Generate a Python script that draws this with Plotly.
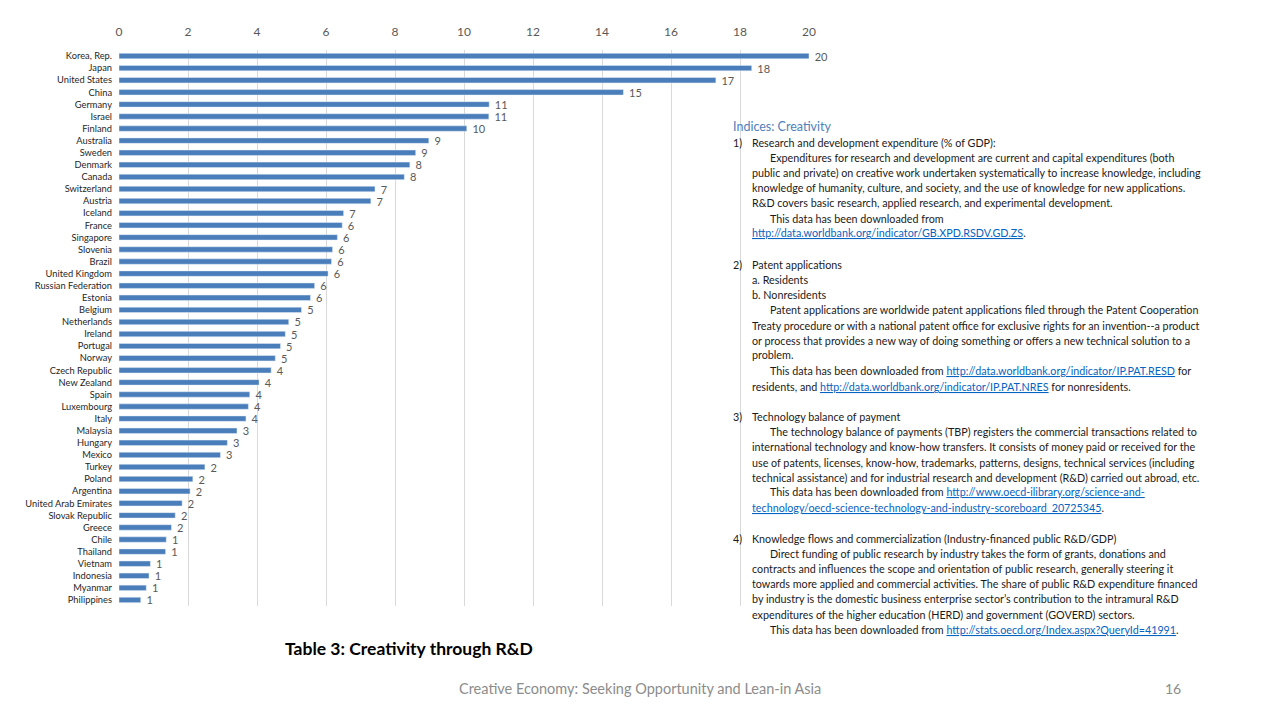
import plotly.graph_objects as go

countries = ["Korea, Rep.", "Japan", "United States", "China", "Germany", "Israel", "Finland",
             "Australia", "Sweden", "Denmark", "Canada", "Switzerland", "Austria", "Iceland",
             "France", "Singapore", "Slovenia", "Brazil", "United Kingdom", "Russian Federation",
             "Estonia", "Belgium", "Netherlands", "Ireland", "Portugal", "Norway", "Czech Republic",
             "New Zealand", "Spain", "Luxembourg", "Italy", "Malaysia", "Hungary", "Mexico",
             "Turkey", "Poland", "Argentina", "United Arab Emirates", "Slovak Republic", "Greece",
             "Chile", "Thailand", "Vietnam", "Indonesia", "Myanmar", "Philippines"]
values = [20.0, 18.34, 17.30, 14.62, 10.73, 10.72, 10.08,
          8.98, 8.60, 8.43, 8.27, 7.42, 7.30, 6.51,
          6.47, 6.33, 6.19, 6.16, 6.06, 5.67,
          5.55, 5.29, 4.92, 4.82, 4.68, 4.53, 4.41,
          4.06, 3.79, 3.75, 3.68, 3.42, 3.14, 2.94,
          2.49, 2.14, 2.06, 1.83, 1.63, 1.52,
          1.37, 1.35, 0.91, 0.87, 0.79, 0.63]
x_ticks = [0, 2, 4, 6, 8, 10, 12, 14, 16, 18, 20]

LINK = "#0563C1"
def link(t):
    return f"<span style='color:{LINK}'><u>{t}</u></span>"

notes = [
    (731, 126, "<span style='color:#4F81BD;font-size:12.5px'>Indices: Creativity</span>"),
    (731, 142, "1)"), (750, 142, "Research and development expenditure (% of GDP):"),
    (768, 157, "Expenditures for research and development are current and capital expenditures (both"),
    (750, 172, "public and private) on creative work undertaken systematically to increase knowledge, including"),
    (750, 187, "knowledge of humanity, culture, and society, and the use of knowledge for new applications."),
    (750, 203, "R&D covers basic research, applied research, and experimental development."),
    (768, 218, "This data has been downloaded from"),
    (750, 233, link("http://data.worldbank.org/indicator/GB.XPD.RSDV.GD.ZS") + "."),
    (731, 264, "2)"), (750, 264, "Patent applications"),
    (750, 279, "a. Residents"),
    (750, 294, "b. Nonresidents"),
    (768, 309, "Patent applications are worldwide patent applications filed through the Patent Cooperation"),
    (750, 325, "Treaty procedure or with a national patent office for exclusive rights for an invention--a product"),
    (750, 340, "or process that provides a new way of doing something or offers a new technical solution to a"),
    (750, 355, "problem."),
    (768, 370, "This data has been downloaded from " + link("http://data.worldbank.org/indicator/IP.PAT.RESD") + " for"),
    (750, 386, "residents, and " + link("http://data.worldbank.org/indicator/IP.PAT.NRES") + " for nonresidents."),
    (731, 416, "3)"), (750, 416, "Technology balance of payment"),
    (768, 431, "The technology balance of payments (TBP) registers the commercial transactions related to"),
    (750, 446, "international technology and know-how transfers. It consists of money paid or received for the"),
    (750, 462, "use of patents, licenses, know-how, trademarks, patterns, designs, technical services (including"),
    (750, 477, "technical assistance) and for industrial research and development (R&D) carried out abroad, etc."),
    (768, 492, "This data has been downloaded from " + link("http://www.oecd-ilibrary.org/science-and-")),
    (750, 507, link("technology/oecd-science-technology-and-industry-scoreboard_20725345") + "."),
    (731, 538, "4)"), (750, 538, "Knowledge flows and commercialization (Industry-financed public R&D/GDP)"),
    (768, 553, "Direct funding of public research by industry takes the form of grants, donations and"),
    (750, 568, "contracts and influences the scope and orientation of public research, generally steering it"),
    (750, 583, "towards more applied and commercial activities. The share of public R&D expenditure financed"),
    (750, 598, "by industry is the domestic business enterprise sector\u2019s contribution to the intramural R&D"),
    (750, 614, "expenditures of the higher education (HERD) and government (GOVERD) sectors."),
    (768, 629, "This data has been downloaded from " + link("http://stats.oecd.org/Index.aspx?QueryId=41991") + "."),
]

PL, PR, PT, PB = 119, 809, 50, 606
def px(x):
    return (x - PL) / (PR - PL)
def py(y):
    return (PB - y) / (PB - PT)

fig = go.Figure(go.Bar(
    y=countries, x=values, orientation="h",
    marker=dict(color="#4A7EBB"),
    width=0.45,
    text=values, texttemplate="\u00a0\u00a0%{x:.0f}", textposition="outside",
    constraintext="none",
    textfont=dict(family="Lato", size=11, color="#595959"),
    cliponaxis=False,
))

anns = []
for x, y, t in notes:
    anns.append(dict(x=px(x), y=py(y), xref="paper", yref="paper", text=t, showarrow=False,
                     xanchor="left", yanchor="middle", align="left",
                     font=dict(family="Lato", size=10.75, color="#1a1a1a")))
anns.append(dict(x=px(283), y=py(648), xref="paper", yref="paper",
                 text="<b>Table 3: Creativity through R&D</b>", showarrow=False,
                 xanchor="left", yanchor="middle", font=dict(family="Lato", size=17.5, color="#000000")))
anns.append(dict(x=px(640), y=py(688), xref="paper", yref="paper",
                 text="Creative Economy: Seeking Opportunity and Lean-in Asia", showarrow=False,
                 xanchor="center", yanchor="middle", font=dict(family="Lato", size=14.5, color="#8c8c8c")))
anns.append(dict(x=px(1183), y=py(688), xref="paper", yref="paper", text="16", showarrow=False,
                 xanchor="right", yanchor="middle", font=dict(family="Lato", size=14, color="#8c8c8c")))

fig.update_layout(
    width=1280, height=720,
    margin=dict(l=PL, r=1280 - PR, t=PT, b=720 - PB, pad=0),
    paper_bgcolor="white", plot_bgcolor="white",
    showlegend=False,
    bargap=0.55,
    annotations=anns,
    xaxis=dict(side="top", range=[0, 20], tickvals=x_ticks, showgrid=True, gridcolor="#d9d9d9",
               gridwidth=1, zeroline=False, showline=False, ticks="",
               ticklabelstandoff=11,
               tickfont=dict(family="Lato", size=12, color="#595959"), ticklen=0),
    yaxis=dict(autorange="reversed", showgrid=False, zeroline=False, showline=False, ticks="",
               ticklabelstandoff=6,
               tickfont=dict(family="Lato", size=9.3, color="#262626")),
)

fig.write_html("out.html", config={"displayModeBar": False},
               post_script="document.body.style.margin='0px';")
